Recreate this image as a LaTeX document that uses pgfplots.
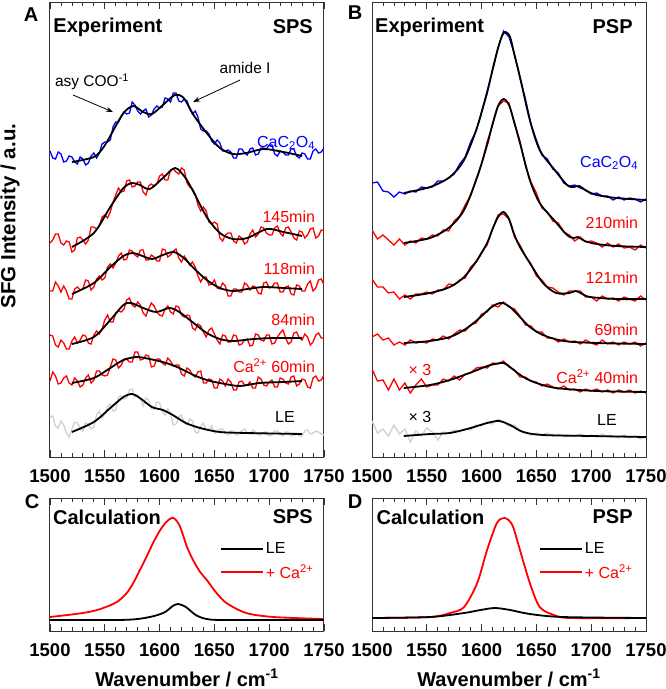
\documentclass[border=0pt]{standalone}
\usepackage{fontspec}
\setmainfont{Liberation Sans}
\usepackage{pgfplots}
\usepackage{pgfplotstable}
\pgfplotsset{compat=1.18}
\usetikzlibrary{arrows.meta}
\definecolor{lgray}{RGB}{208,208,208}
\definecolor{myred}{RGB}{255,0,0}
\definecolor{myblue}{RGB}{0,0,255}
\newcommand{\ftit}{\fontsize{20}{23}\selectfont\bfseries}
\newcommand{\flab}{\fontsize{16}{19}\selectfont}
\newcommand{\fann}{\fontsize{15.5}{18}\selectfont}

% Panel A experimental spectra (vertical offsets in px units)
\pgfplotstableread{
x a1 a2 a3 a4 a5 a6
1500 298 206 158 114 68 32
1502.5 291 209 158 113 77 33
1505 290 215 167 104 73 23
1507.5 297 215 163 102 65 21
1510 295 206 157 109 66 28
1512.5 287 204 163 106 71 24
1515 288 208 158 100 73 16
1517.5 293 207 150 100 66 12
1520 292 197 150 108 64 20
1522.5 287 199 160 112 71 27
1525 285 211 162 106 68 26
1527.5 292 212 159 109 62 21
1530 290 209 160 114 64 18
1532.5 284 205 169 113 71 26
1535 286 209 168 106 74 25
1537.5 293 222 159 105 66 20
1540 296 222 162 114 69 22
1542.5 291 220 170 118 78 34
1545 296 223 173 115 78 38
1547.5 305 232 169 120 74 31
1550 307 234 171 129 73 35
1552.5 307 231 182 134 74 42
1555 309 237 185 127 82 45
1557.5 322 247 181 127 90 38
1560 327 254 186 136 89 39
1562.5 327 261 193 138 81 52
1565 332 257 196 137 84 53
1567.5 337 258 189 140 90 50
1570 335 268 190 149 90 51
1572.5 336 269 199 151 87 59
1575 347 262 198 144 87 60
1577.5 344 263 194 142 97 52
1580 338 267 192 147 97 54
1582.5 335 267 199 144 89 50
1585 338 257 199 136 90 43
1587.5 340 254 189 133 94 51
1590 332 263 189 140 93 49
1592.5 334 265 194 146 82 40
1595 340 263 192 143 83 40
1597.5 343 265 188 137 90 47
1600 341 273 188 134 90 46
1602.5 342 275 200 133 86 38
1605 351 269 199 140 84 34
1607.5 350 269 192 143 91 40
1610 347 279 194 137 88 36
1612.5 356 280 198 135 83 24
1615 356 277 200 143 84 25
1617.5 348 275 191 142 84 32
1620 347 281 187 134 75 34
1622.5 350 279 193 132 73 26
1625 348 266 189 134 81 24
1627.5 340 262 184 133 79 30
1630 335 260 187 121 74 28
1632.5 338 255 182 119 72 17
1635 332 244 173 125 77 16
1637.5 320 238 167 123 78 23
1640 318 242 172 117 66 26
1642.5 318 238 172 112 66 19
1645 315 227 164 119 70 19
1647.5 308 225 165 121 69 23
1650 305 227 169 115 61 16
1652.5 309 225 161 109 61 17
1655 306 211 160 105 70 20
1657.5 298 208 166 114 68 20
1660 298 214 163 113 63 16
1662.5 299 216 153 107 70 14
1665 297 216 153 107 67 18
1667.5 291 208 160 114 59 18
1670 291 206 160 113 59 14
1672.5 300 213 157 104 67 15
1675 300 211 157 105 68 18
1677.5 296 205 166 109 64 20
1680 294 207 164 110 64 16
1682.5 300 215 159 103 67 15
1685 301 219 163 104 61 19
1687.5 294 212 162 115 61 17
1690 295 215 156 114 72 14
1692.5 301 222 155 109 70 14
1695 301 221 166 108 64 17
1697.5 300 216 167 114 63 17
1700 304 214 161 114 67 13
1702.5 304 214 162 105 69 14
1705 295 221 166 106 62 18
1707.5 293 223 166 112 62 18
1710 298 216 157 116 71 15
1712.5 297 213 157 119 70 13
1715 294 221 162 111 66 17
1717.5 294 222 163 105 65 17
1720 300 217 155 107 72 13
1722.5 300 211 154 116 73 14
1725 293 209 164 117 63 16
1727.5 291 218 163 111 65 13
1730 296 217 158 109 70 13
1732.5 295 211 158 115 69 18
1735 290 214 165 112 62 19
1737.5 290 220 168 104 61 15
1740 298 221 158 107 71 16
1742.5 300 211 161 114 73 18
1745 296 213 169 116 68 17
1747.5 297 219 170 111 69 15
1750 301 218 164 111 74 14
}\tabA

% Panel B experimental spectra
\pgfplotstableread{
x b1 b2 b3 b4 b5 b6
1500 266 219 170 112 80 28
1505 267 210 162 115 68 16
1510 258 214 162 109 69 20
1515 257 209 156 111 59 13
1520 252 204 157 104 70 24
1525 257 210 150 107 59 15
1530 255 204 154 104 66 20
1535 258 208 150 109 56 7
1540 257 206 155 106 64 18
1545 262 211 155 107 70 13
1550 261 210 157 106 62 21
1555 262 214 155 110 64 17
1560 268 213 159 109 64 9
1565 268 219 159 113 70 17
1570 271 218 165 110 68 16
1575 275 228 164 115 73 19
1580 285 233 169 119 69 17
1585 292 244 171 118 75 20
1590 307 253 182 124 76 19
1595 318 270 187 126 81 24
1600 337 285 197 135 82 23
1605 355 307 204 137 81 27
1610 380 324 220 144 86 25
1615 401 343 234 142 85 30
1620 418 348 235 147 88 27
1625 412 346 230 142 82 23
1630 395 325 212 140 79 24
1635 371 308 204 133 72 18
1640 350 283 193 124 72 17
1645 325 267 185 123 68 14
1650 309 256 173 117 67 16
1655 294 241 169 117 63 14
1660 290 237 162 111 65 16
1665 280 228 161 111 62 13
1670 276 226 157 107 60 15
1675 266 217 154 110 63 12
1680 263 214 158 107 59 14
1685 264 208 158 108 60 13
1690 261 212 158 105 57 15
1695 259 207 152 109 60 12
1700 255 208 152 106 58 14
1705 256 206 148 104 60 12
1710 253 202 153 109 57 15
1715 253 206 150 105 59 12
1720 249 202 151 107 56 13
1725 252 205 148 104 59 11
1730 249 201 152 107 57 14
1735 251 202 150 105 59 11
1740 250 199 148 107 56 13
1745 247 204 153 103 58 10
1750 250 201 149 106 56 12
}\tabB

\pgfplotsset{
  panel/.style={
    scale only axis, width=274pt, anchor=south west,
    xmin=1500, xmax=1750, xtick={1500,1550,...,1750}, minor x tick num=4,
    ytick=\empty, tick align=inside,
    major tick length=7pt, minor tick length=4pt,
    tick style={black!80, line width=0.8pt},
    axis line style={black!80, line width=1pt},
    xticklabel style={font=\bfseries\fontsize{18.5}{20}\selectfont, yshift=-9pt},
    /pgf/number format/assume math mode=true,
    /pgf/number format/1000 sep={},
  },
  noisy/.style={line width=1.3pt},
  fit/.style={black, line width=1.8pt, smooth},
  calc/.style={line width=1.8pt, smooth},
  leg/.style={
    legend style={draw=none, fill=none, font=\flab, inner sep=0pt, row sep=5pt,
      /tikz/every even column/.append style={column sep=2pt}},
    legend image code/.code={\draw[##1] (0pt,0pt) -- (42pt,0pt);},
    legend cell align=left,
  },
}
\tikzset{txt/.style={inner sep=0pt}}

\begin{document}
\begin{tikzpicture}
\useasboundingbox (0pt,0pt) rectangle (666pt,-689pt);

% ---------------- Panel A ----------------
\begin{axis}[panel, at={(50pt,-457pt)}, height=455pt, ymin=-8, ymax=447]
\addplot[noisy, lgray] table[x=x, y=a6] {\tabA};
\addplot[noisy, myred] table[x=x, y=a5] {\tabA};
\addplot[noisy, myred] table[x=x, y=a4] {\tabA};
\addplot[noisy, myred] table[x=x, y=a3] {\tabA};
\addplot[noisy, myred] table[x=x, y=a2] {\tabA};
\addplot[noisy, myblue] table[x=x, y=a1] {\tabA};
\addplot[fit] coordinates {(1520,287)(1540,292)(1549,302)(1558,319)(1567,336)(1576,343)(1585,337)(1593,335)(1603,344)(1614,354)(1622,351)(1631,334)(1643,316)(1655,301)(1667,295)(1679,296)(1695,300)(1713,297)(1730,293)};
\addplot[fit] coordinates {(1520,202)(1540,216)(1555,242)(1567,261)(1575,266)(1582,264)(1591,260)(1603,271)(1614,281)(1623,272)(1631,257)(1643,232)(1655,216)(1667,210)(1680,211)(1698,220)(1713,217)(1730,213)};
\addplot[fit] coordinates {(1520,155)(1540,166)(1555,182)(1567,193)(1575,196)(1582,194)(1593,190)(1603,194)(1613,197)(1622,191)(1631,181)(1643,169)(1655,161)(1667,158)(1680,160)(1695,162)(1713,161)(1730,160)};
\addplot[fit] coordinates {(1520,105)(1540,112)(1555,129)(1567,144)(1574,146)(1585,141)(1597,137)(1609,141)(1618,137)(1631,126)(1643,116)(1655,110)(1667,108)(1686,110)(1704,111)(1730,111)};
\addplot[fit] coordinates {(1520,66)(1540,71)(1555,81)(1567,89)(1579,92)(1591,90)(1606,86)(1618,81)(1631,74)(1643,69)(1655,66)(1673,63)(1691,66)(1713,67)(1730,68)};
\addplot[fit] coordinates {(1520,17)(1540,27)(1555,41)(1567,52)(1575,55)(1582,51)(1593,42)(1603,39)(1612,34)(1624,26)(1637,21)(1655,17)(1680,16)(1730,15)};
\node[txt, anchor=west, font=\ftit] at (axis cs:1503,422) {Experiment};
\node[txt, anchor=east, font=\ftit] at (axis cs:1740,422) {SPS};
\node[txt, anchor=east, font=\flab, text=myblue] at (axis cs:1742,306) {CaC\textsubscript{2}O\textsubscript{4}};
\node[txt, anchor=east, font=\flab, text=myred] at (axis cs:1742,232) {145min};
\node[txt, anchor=east, font=\flab, text=myred] at (axis cs:1742,180) {118min};
\node[txt, anchor=east, font=\flab, text=myred] at (axis cs:1742,129) {84min};
\node[txt, anchor=east, font=\flab, text=myred] at (axis cs:1742,83) {Ca\textsuperscript{2+} 60min};
\node[txt, anchor=east, font=\flab] at (axis cs:1723.5,32) {LE};
\node[font=\fann] at (axis cs:1538.3,367) {asy COO\textsuperscript{-1}};
\node[font=\fann] at (axis cs:1678,381) {amide I};
\draw[-{Stealth[length=7pt,width=5pt]}, line width=0.8pt] (axis cs:1521,354) -- (axis cs:1557.5,337);
\draw[-{Stealth[length=7pt,width=5pt]}, line width=0.8pt] (axis cs:1673.4,369) -- (axis cs:1630.5,347);
\end{axis}

% ---------------- Panel B ----------------
\begin{axis}[panel, at={(372pt,-457pt)}, height=455pt, ymin=-8, ymax=447]
\addplot[noisy, lgray] table[x=x, y=b6] {\tabB};
\addplot[noisy, myred] table[x=x, y=b5] {\tabB};
\addplot[noisy, myred] table[x=x, y=b4] {\tabB};
\addplot[noisy, myred] table[x=x, y=b3] {\tabB};
\addplot[noisy, myred] table[x=x, y=b2] {\tabB};
\addplot[noisy, myblue] table[x=x, y=b1] {\tabB};
\addplot[fit] coordinates {(1529,256)(1553,262)(1571,272)(1584,289)(1596,322)(1605,357)(1610,379)(1615,401)(1619,414)(1622,417)(1626,412)(1630,394)(1635,372)(1644,329)(1653,299)(1666,280)(1678,264)(1684,262)(1689,263)(1696,258)(1705,254)(1723,251)(1750,249)};
\addplot[fit] coordinates {(1529,206)(1553,211)(1571,222)(1584,239)(1596,272)(1605,304)(1610,325)(1615,343)(1620,350)(1625,344)(1630,326)(1635,306)(1644,269)(1653,246)(1666,229)(1678,214)(1684,211)(1688,212)(1694,208)(1705,205)(1723,203)(1750,202)};
\addplot[fit] coordinates {(1529,152)(1553,156)(1571,162)(1584,172)(1596,189)(1605,206)(1610,220)(1615,232)(1620,237)(1625,230)(1630,214)(1635,202)(1644,186)(1656,166)(1668,156)(1680,156)(1686,158)(1692,155)(1699,152)(1723,150)(1750,150)};
\addplot[fit] coordinates {(1529,106)(1553,108)(1571,112)(1584,119)(1596,129)(1608,141)(1614,145)(1619,146)(1626,142)(1635,132)(1644,122)(1656,114)(1675,108)(1705,106)(1750,105)};
\addplot[fit] coordinates {(1529,61)(1553,64)(1571,69)(1584,74)(1596,79)(1608,84)(1620,86)(1627,81)(1638,72)(1650,66)(1668,61)(1705,58)(1750,57)};
\addplot[fit] coordinates {(1529,13)(1553,15)(1571,16)(1590,21)(1605,26)(1616,28)(1626,24)(1638,17)(1656,14)(1700,13)(1750,12)};
\node[txt, anchor=west, font=\ftit] at (axis cs:1502.7,422) {Experiment};
\node[txt, anchor=east, font=\ftit] at (axis cs:1738,422) {PSP};
\node[txt, anchor=east, font=\flab, text=myblue] at (axis cs:1743,286) {CaC\textsubscript{2}O\textsubscript{4}};
\node[txt, anchor=east, font=\flab, text=myred] at (axis cs:1743,226) {210min};
\node[txt, anchor=east, font=\flab, text=myred] at (axis cs:1743,171) {121min};
\node[txt, anchor=east, font=\flab, text=myred] at (axis cs:1743,119) {69min};
\node[txt, anchor=east, font=\flab, text=myred] at (axis cs:1743,72) {Ca\textsuperscript{2+} 40min};
\node[txt, anchor=east, font=\flab] at (axis cs:1723.5,29) {LE};
\node[font=\flab, text=myred] at (axis cs:1543.8,79) {× 3};
\node[font=\flab] at (axis cs:1543.8,32) {× 3};
\end{axis}

% ---------------- Panel C ----------------
\begin{axis}[panel, leg, at={(50pt,-631pt)}, height=133pt, ymin=0, ymax=133,
  legend style={at={(0.62,0.68)}, anchor=north west}]
\addlegendimage{black, line width=1.8pt}
\addlegendentry{LE}
\addlegendimage{myred, line width=1.8pt}
\addlegendentry{\textcolor{myred}{+ Ca\textsuperscript{2+}}}
\addplot[calc, myred, forget plot] coordinates {(1500,14)(1530,18)(1546,22)(1561,29)(1570,38)(1576,48)(1582,61)(1588,74)(1594,88)(1600,100)(1606,109)(1611,113)(1614,112)(1618,106)(1622,94)(1625,84)(1631,70)(1637,59)(1643,51)(1652,38)(1661,28)(1679,18)(1704,14)(1750,12)};
\addplot[calc, black, forget plot] coordinates {(1500,11)(1560,11)(1580,12)(1595,15)(1605,19)(1612,25)(1617,27)(1624,24)(1633,16)(1643,12)(1660,11)(1750,11)};
\node[txt, anchor=west, font=\ftit] at (axis cs:1502.7,114) {Calculation};
\node[txt, anchor=east, font=\ftit] at (axis cs:1740,114) {SPS};
\end{axis}

% ---------------- Panel D ----------------
\begin{axis}[panel, leg, at={(372pt,-631pt)}, height=133pt, ymin=0, ymax=133,
  legend style={at={(0.609,0.68)}, anchor=north west}]
\addlegendimage{black, line width=1.8pt}
\addlegendentry{LE}
\addlegendimage{myred, line width=1.8pt}
\addlegendentry{\textcolor{myred}{+ Ca\textsuperscript{2+}}}
\addplot[calc, myred, forget plot] coordinates {(1500,13)(1553,14)(1571,18)(1584,24)(1596,48)(1605,81)(1614,108)(1621,113)(1628,106)(1635,81)(1644,48)(1653,24)(1666,16)(1681,13)(1750,13)};
\addplot[calc, black, forget plot] coordinates {(1500,13)(1553,14)(1584,18)(1599,21)(1612,23)(1626,21)(1644,17)(1674,14)(1750,13)};
\node[txt, anchor=west, font=\ftit] at (axis cs:1504,114) {Calculation};
\node[txt, anchor=east, font=\ftit] at (axis cs:1738,114) {PSP};
\end{axis}

% ---------------- Labels ----------------
\node[font=\ftit] at (31pt,-15pt) {A};
\node[font=\ftit] at (355pt,-13pt) {B};
\node[font=\ftit] at (32pt,-502pt) {C};
\node[font=\ftit] at (355pt,-502pt) {D};
\node[rotate=90, inner sep=0pt, font=\fontsize{20.5}{24}\selectfont\bfseries] at (10pt,-216pt) {SFG Intensity / a.u.};
\node[anchor=base, font=\fontsize{20}{24}\selectfont\bfseries] at (187pt,-686pt) {Wavenumber / cm\textsuperscript{-1}};
\node[anchor=base, font=\fontsize{20}{24}\selectfont\bfseries] at (509pt,-686pt) {Wavenumber / cm\textsuperscript{-1}};
\end{tikzpicture}
\end{document}
